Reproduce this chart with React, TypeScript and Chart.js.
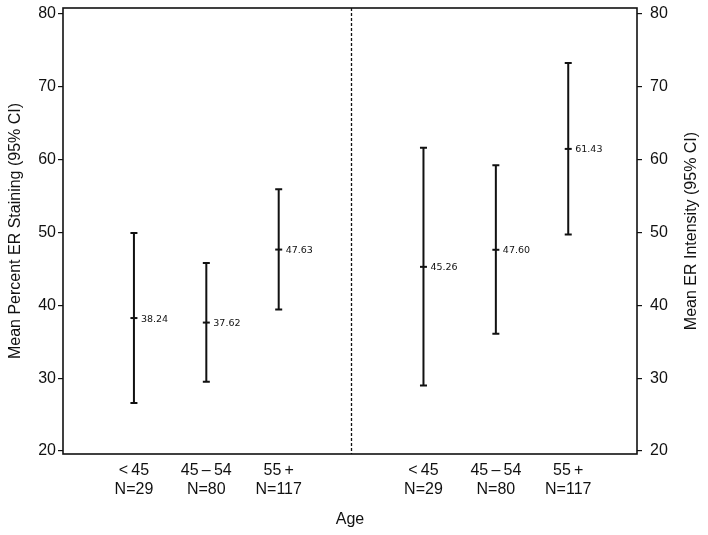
import React, { useEffect, useRef } from "react";
import { Chart, registerables } from "chart.js";

Chart.register(...registerables);

const ageGroups = ["<\u200945", "45\u2009–\u200954", "55\u2009+"];
const groupN = [29, 80, 117];
const stainingMean = [38.24, 37.62, 47.63];
const stainingLower = [26.6, 29.5, 39.4];
const stainingUpper = [49.9, 45.8, 55.9];
const intensityMean = [45.26, 47.6, 61.43];
const intensityLower = [29.0, 36.1, 49.7];
const intensityUpper = [61.6, 59.2, 73.2];
const leftPositions = [1, 2, 3];
const rightPositions = [5, 6, 7];
const dividerPosition = 4;
const yTicks = [20, 30, 40, 50, 60, 70, 80];
const leftTitle = "Mean Percent ER Staining (95% CI)";
const rightTitle = "Mean ER Intensity (95% CI)";
const xTitle = "Age";

const FONT = "'Liberation Sans', Arial, Helvetica, sans-serif";
const SMALL_FONT = "'DejaVu Sans', 'Liberation Sans', sans-serif";
const INK = "#111";

export default function App() {
  const ref = useRef<HTMLCanvasElement | null>(null);

  useEffect(() => {
    document.body.style.margin = "0";
    const canvas = ref.current!;
    const tickLabelFor = (v: number) => {
      let i = leftPositions.indexOf(v);
      if (i < 0) i = rightPositions.indexOf(v);
      if (i < 0) return "";
      return [ageGroups[i], "N=" + groupN[i]];
    };

    const errorPlugin = {
      id: "errorBars",
      afterDatasetsDraw(chart: any) {
        const { ctx, chartArea, scales } = chart;
        const xs = scales.x;
        ctx.save();
        // frame
        ctx.strokeStyle = INK;
        ctx.lineWidth = 1.6;
        ctx.setLineDash([]);
        ctx.strokeRect(chartArea.left, chartArea.top, chartArea.right - chartArea.left, chartArea.bottom - chartArea.top);
        // divider
        const dx = Math.round(xs.getPixelForValue(dividerPosition)) + 0.5;
        ctx.setLineDash([3, 2]);
        ctx.lineWidth = 1.3;
        ctx.beginPath();
        ctx.moveTo(dx, chartArea.top);
        ctx.lineTo(dx, chartArea.bottom);
        ctx.stroke();
        ctx.setLineDash([]);

        const drawGroup = (pos: number[], mean: number[], lo: number[], hi: number[], ys: any) => {
          pos.forEach((p, i) => {
            const x = xs.getPixelForValue(p);
            const yl = ys.getPixelForValue(lo[i]);
            const yh = ys.getPixelForValue(hi[i]);
            const ym = ys.getPixelForValue(mean[i]);
            ctx.strokeStyle = INK;
            ctx.lineWidth = 2;
            ctx.beginPath();
            ctx.moveTo(x, yl);
            ctx.lineTo(x, yh);
            ctx.moveTo(x - 3.5, yl);
            ctx.lineTo(x + 3.5, yl);
            ctx.moveTo(x - 3.5, yh);
            ctx.lineTo(x + 3.5, yh);
            ctx.stroke();
            ctx.fillStyle = INK;
            ctx.font = "9.5px " + SMALL_FONT;
            ctx.textAlign = "left";
            ctx.textBaseline = "middle";
            ctx.fillText(mean[i].toFixed(2), x + 7, ym + 1);
          });
        };
        drawGroup(leftPositions, stainingMean, stainingLower, stainingUpper, scales.y);
        drawGroup(rightPositions, intensityMean, intensityLower, intensityUpper, scales.y2);

        // right title (reads bottom-to-top)
        const cy = (chartArea.top + chartArea.bottom) / 2;
        ctx.translate(692, cy);
        ctx.rotate(-Math.PI / 2);
        ctx.font = "16px " + FONT;
        ctx.textAlign = "center";
        ctx.textBaseline = "middle";
        ctx.fillStyle = INK;
        ctx.fillText(rightTitle, 0, 0);
        ctx.restore();
      },
    };

    const fitVertical = (width: number) => (s: any) => {
      s.width = width;
      s.paddingTop = 0;
      s.paddingBottom = 0;
    };

    const chart = new Chart(canvas, {
      type: "scatter",
      data: {
        datasets: [
          {
            label: "staining",
            data: leftPositions.map((p, i) => ({ x: p, y: stainingMean[i] })),
            yAxisID: "y",
            pointStyle: "line",
            radius: 3.5,
            borderWidth: 2,
            borderColor: INK,
            backgroundColor: INK,
          },
          {
            label: "intensity",
            data: rightPositions.map((p, i) => ({ x: p, y: intensityMean[i] })),
            yAxisID: "y2",
            pointStyle: "line",
            radius: 3.5,
            borderWidth: 2,
            borderColor: INK,
            backgroundColor: INK,
          },
        ],
      },
      options: {
        responsive: false,
        animation: false,
        layout: { padding: { top: 8, left: 0, right: 0, bottom: 0 } },
        plugins: { legend: { display: false }, tooltip: { enabled: false } },
        scales: {
          x: {
            type: "linear",
            min: 0.02,
            max: 7.95,
            afterBuildTicks: (s: any) => {
              s.ticks = [...leftPositions, ...rightPositions].map((v) => ({ value: v }));
            },
            afterFit: (s: any) => {
              s.height = 81;
              s.paddingLeft = 0;
              s.paddingRight = 0;
            },
            grid: { display: false, drawTicks: false },
            border: { display: false },
            ticks: {
              autoSkip: false,
              maxRotation: 0,
              padding: 7,
              color: INK,
              font: { family: FONT, size: 16, lineHeight: 1.2 },
              callback: (v: any) => tickLabelFor(Number(v)) as any,
            },
            title: {
              display: true,
              text: xTitle,
              color: INK,
              font: { family: FONT, size: 16 },
              padding: { top: 7, bottom: 6 },
            },
          },
          y: {
            position: "left",
            min: 19.6,
            max: 80.75,
            afterBuildTicks: (s: any) => {
              s.ticks = yTicks.map((v) => ({ value: v }));
            },
            afterFit: fitVertical(63),
            grid: { drawOnChartArea: false, drawTicks: true, tickLength: 5, color: INK, lineWidth: 1.2 },
            border: { display: false },
            ticks: { padding: 2, color: INK, font: { family: FONT, size: 16 } },
            title: {
              display: true,
              text: leftTitle,
              color: INK,
              font: { family: FONT, size: 16 },
              padding: { top: 6, bottom: 6 },
            },
          },
          y2: {
            position: "right",
            min: 19.6,
            max: 80.75,
            afterBuildTicks: (s: any) => {
              s.ticks = yTicks.map((v) => ({ value: v }));
            },
            afterFit: fitVertical(71),
            grid: { drawOnChartArea: false, drawTicks: true, tickLength: 5, color: INK, lineWidth: 1.2 },
            border: { display: false },
            ticks: { padding: 8, color: INK, font: { family: FONT, size: 16 } },
            title: { display: false },
          },
        },
      },
      plugins: [errorPlugin],
    } as any);
    return () => chart.destroy();
  }, []);

  return <canvas ref={ref} width={708} height={535} style={{ display: "block" }} />;
}
